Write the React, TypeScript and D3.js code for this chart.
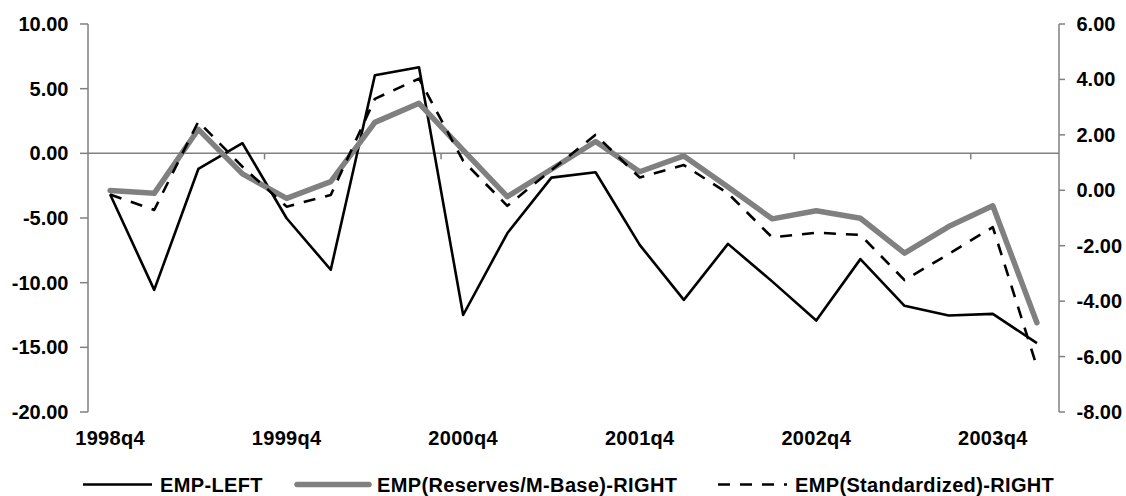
import React from "react";
import * as d3 from "d3";

const categories = [
  "1998q4", "1999q1", "1999q2", "1999q3", "1999q4", "2000q1", "2000q2", "2000q3",
  "2000q4", "2001q1", "2001q2", "2001q3", "2001q4", "2002q1", "2002q2", "2002q3",
  "2002q4", "2003q1", "2003q2", "2003q3", "2003q4", "2004q1",
];

const empLeft = [
  -3.16, -10.56, -1.21, 0.78, -5.02, -9.0, 6.04, 6.66, -12.5, -6.18, -1.88,
  -1.46, -7.08, -11.33, -7.0, -9.9, -12.93, -8.18, -11.79, -12.54, -12.41, -14.68,
];

const empReserves = [
  -0.01, -0.11, 2.2, 0.59, -0.29, 0.31, 2.45, 3.14, 1.45, -0.23, 0.76,
  1.76, 0.67, 1.24, 0.12, -1.03, -0.74, -1.01, -2.27, -1.31, -0.56, -4.78,
];

const empStandardized = [
  -0.15, -0.71, 2.48, 0.85, -0.59, -0.17, 3.3, 4.03, 1.06, -0.56, 0.73,
  2.0, 0.46, 0.91, -0.11, -1.7, -1.53, -1.61, -3.24, -2.3, -1.33, -6.37,
];

const leftTicks = [-20, -15, -10, -5, 0, 5, 10];
const rightTicks = [-8, -6, -4, -2, 0, 2, 4, 6];
const xLabels = ["1998q4", "1999q4", "2000q4", "2001q4", "2002q4", "2003q4"];

const legendItems = [
  "EMP-LEFT",
  "EMP(Reserves/M-Base)-RIGHT",
  "EMP(Standardized)-RIGHT",
];

const FONT = "'Liberation Sans', Arial, sans-serif";
const AXIS = "#808080";

export default function App() {
  const left = 88, right = 1059, top = 24, bottom = 412;
  const x = d3.scaleBand<string>().domain(categories).range([left, right]).padding(0);
  const bw = x.bandwidth();
  const cx = (c: string) => (x(c) as number) + bw / 2;
  const yL = d3.scaleLinear().domain([-20, 10]).range([bottom, top]);
  const yR = d3.scaleLinear().domain([-8, 6]).range([bottom, top]);

  const lineL = d3.line<number>().x((_, i) => cx(categories[i])).y((d) => yL(d));
  const lineR = d3.line<number>().x((_, i) => cx(categories[i])).y((d) => yR(d));

  const zeroY = yL(0);
  const boundaryTicks = categories
    .map((_, i) => i)
    .filter((i) => i % 4 === 0 && i > 0)
    .map((i) => left + i * bw);

  const legendY = 484.5;
  const legendBase = 491.5;
  const legend = [
    { x1: 83, x2: 152, tx: 160, stroke: "#000", w: 2.6, dash: undefined as string | undefined },
    { x1: 297, x2: 369, tx: 377, stroke: "#808080", w: 5.5, dash: undefined },
    { x1: 718, x2: 787, tx: 795, stroke: "#000", w: 2.6, dash: "12,10" },
  ];

  return (
    <svg
      width={1126}
      height={496}
      style={{ position: "absolute", left: 0, top: 0, background: "#fff" }}
      fontFamily={FONT}
      fontWeight="bold"
    >
      <rect x={0} y={0} width={1126} height={496} fill="#fff" />
      {/* left axis */}
      <line x1={left} x2={left} y1={top} y2={bottom} stroke={AXIS} strokeWidth={1.5} />
      {leftTicks.map((t) => (
        <g key={"l" + t}>
          <line x1={left - 8} x2={left} y1={yL(t)} y2={yL(t)} stroke={AXIS} strokeWidth={1.5} />
          <text x={68.5} y={yL(t) + 7} textAnchor="end" fontSize={20} fill="#000">
            {t.toFixed(2)}
          </text>
        </g>
      ))}
      {/* right axis */}
      <line x1={right} x2={right} y1={top} y2={bottom} stroke={AXIS} strokeWidth={1.5} />
      {rightTicks.map((t) => (
        <g key={"r" + t}>
          <line x1={right} x2={right + 6} y1={yR(t)} y2={yR(t)} stroke={AXIS} strokeWidth={1.5} />
          <text x={1076.5} y={yR(t) + 7} textAnchor="start" fontSize={20} fill="#000">
            {t.toFixed(2)}
          </text>
        </g>
      ))}
      {/* x axis */}
      <line x1={left} x2={right} y1={zeroY} y2={zeroY} stroke={AXIS} strokeWidth={1.5} />
      {boundaryTicks.map((bx, i) => (
        <line key={"xt" + i} x1={bx} x2={bx} y1={zeroY} y2={zeroY + 6} stroke={AXIS} strokeWidth={1.5} />
      ))}
      {xLabels.map((c) => (
        <text key={c} x={cx(c)} y={445} textAnchor="middle" fontSize={20} fill="#000" letterSpacing={0.3}>
          {c}
        </text>
      ))}
      {/* series */}
      <path d={lineL(empLeft) || ""} fill="none" stroke="#000" strokeWidth={2.6} strokeLinejoin="round" />
      <path
        d={lineR(empReserves) || ""}
        fill="none"
        stroke="#808080"
        strokeWidth={5.5}
        strokeLinejoin="round"
        strokeLinecap="round"
      />
      <path
        d={lineR(empStandardized) || ""}
        fill="none"
        stroke="#000"
        strokeWidth={2.6}
        strokeDasharray="12,10"
        strokeLinejoin="round"
      />
      {/* legend */}
      {legend.map((l, i) => (
        <g key={"lg" + i}>
          <line
            x1={l.x1}
            x2={l.x2}
            y1={legendY}
            y2={legendY}
            stroke={l.stroke}
            strokeWidth={l.w}
            strokeDasharray={l.dash}
            strokeLinecap={i === 1 ? "round" : "butt"}
          />
          <text x={l.tx} y={legendBase} fontSize={20} fill="#000" letterSpacing={0.35}>
            {legendItems[i]}
          </text>
        </g>
      ))}
    </svg>
  );
}
